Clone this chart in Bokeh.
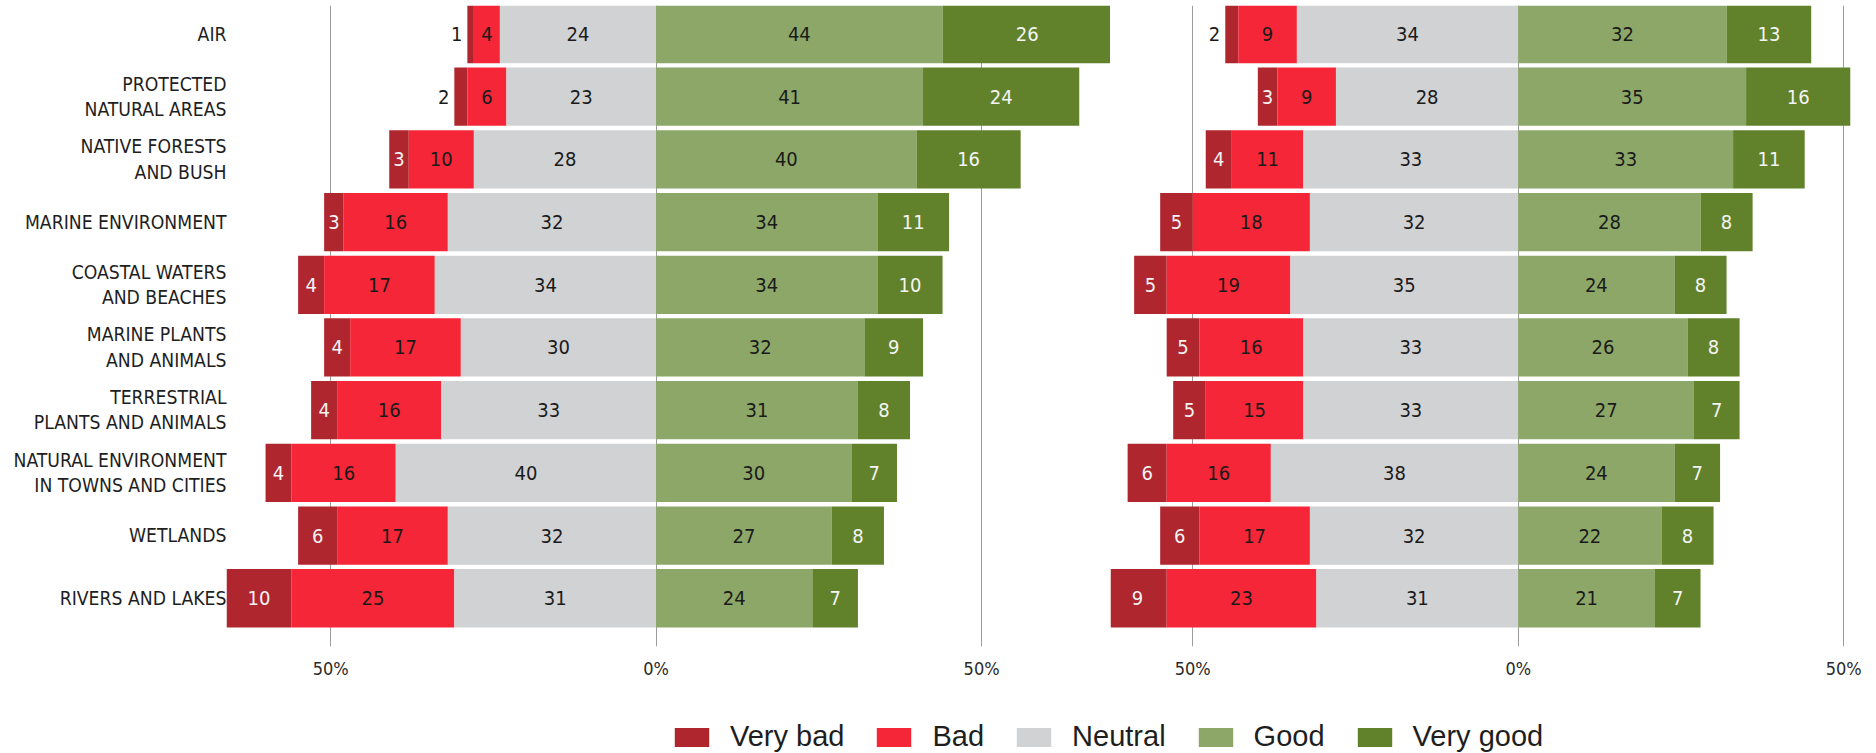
import numpy as np
from bokeh.plotting import figure
from bokeh.models import Range1d, FixedTicker, ColumnDataSource, Legend, LegendItem
from bokeh.layouts import column, row
from bokeh.embed import file_html
from bokeh.resources import INLINE
from bokeh.core.properties import value

categories = [
    "AIR",
    "PROTECTED\nNATURAL AREAS",
    "NATIVE FORESTS\nAND BUSH",
    "MARINE ENVIRONMENT",
    "COASTAL WATERS\nAND BEACHES",
    "MARINE PLANTS\nAND ANIMALS",
    "TERRESTRIAL\nPLANTS AND ANIMALS",
    "NATURAL ENVIRONMENT\nIN TOWNS AND CITIES",
    "WETLANDS",
    "RIVERS AND LAKES",
]
levels = ["Very bad", "Bad", "Neutral", "Good", "Very good"]
colors = ["#B0262E", "#F42637", "#D1D2D4", "#8DA768", "#61822B"]

# Left panel
very_bad_1 = [1, 2, 3, 3, 4, 4, 4, 4, 6, 10]
bad_1 = [4, 6, 10, 16, 17, 17, 16, 16, 17, 25]
neutral_1 = [24, 23, 28, 32, 34, 30, 33, 40, 32, 31]
good_1 = [44, 41, 40, 34, 34, 32, 31, 30, 27, 24]
very_good_1 = [26, 24, 16, 11, 10, 9, 8, 7, 8, 7]

# Right panel
very_bad_2 = [2, 3, 4, 5, 5, 5, 5, 6, 6, 9]
bad_2 = [9, 9, 11, 18, 19, 16, 15, 16, 17, 23]
neutral_2 = [34, 28, 33, 32, 35, 33, 33, 38, 32, 31]
good_2 = [32, 35, 33, 28, 24, 26, 27, 24, 22, 21]
very_good_2 = [13, 16, 11, 8, 8, 8, 7, 7, 8, 7]

tick_values = [-50, 0, 50]
tick_labels = ["50%", "0%", "50%"]

COND = "DejaVu Sans Condensed"
DARK = "#1a1a1a"
LIGHT = "#f4f4f4"
FRAME_H = 641


def make_panel(vb, b, n, g, vg, x_start, x_end, frame_w, show_y):
    vb, b, n, g, vg = [np.array(a, dtype=float) for a in (vb, b, n, g, vg)]
    y = np.arange(len(categories))
    segs = [
        (-(n + b + vb), -(n + b)),
        (-(n + b), -n),
        (-n, np.zeros_like(n)),
        (np.zeros_like(g), g),
        (g, g + vg),
    ]
    p = figure(
        frame_width=frame_w, frame_height=FRAME_H,
        x_range=Range1d(x_start, x_end),
        y_range=Range1d(len(categories) - 1 + 0.77, -0.455),
        output_backend="svg", toolbar_location=None,
        min_border_left=226 if show_y else 0, min_border_right=0,
        min_border_top=5, min_border_bottom=30,
        y_axis_location="left" if show_y else None,
    )
    p.outline_line_color = None
    p.xgrid.ticker = FixedTicker(ticks=tick_values)
    p.xgrid.grid_line_color = "#9c9c9c"
    p.xgrid.grid_line_width = 1
    p.ygrid.grid_line_color = None

    p.xaxis.ticker = FixedTicker(ticks=tick_values)
    p.xaxis.major_label_overrides = {t: l for t, l in zip(tick_values, tick_labels)}
    p.xaxis.axis_line_color = None
    p.xaxis.major_tick_line_color = None
    p.xaxis.minor_tick_line_color = None
    p.xaxis.major_label_standoff = 5
    p.xaxis.major_label_text_font = COND
    p.xaxis.major_label_text_font_size = "18px"
    p.xaxis.major_label_text_color = "#2a2a2a"

    if show_y:
        p.yaxis.ticker = FixedTicker(ticks=list(range(len(categories))))
        p.yaxis.major_label_overrides = {i: c for i, c in enumerate(categories)}
        p.yaxis.axis_line_color = None
        p.yaxis.major_tick_line_color = None
        p.yaxis.minor_tick_line_color = None
        p.yaxis.major_tick_out = 0
        p.yaxis.major_tick_in = 0
        p.yaxis.major_label_standoff = 0
        p.yaxis.major_label_text_font = COND
        p.yaxis.major_label_text_font_size = "19.2px"
        p.yaxis.major_label_text_color = "#1e1e1e"
        p.yaxis.major_label_text_line_height = 1.1

    vals = [vb, b, n, g, vg]
    for k, ((left, right), col) in enumerate(zip(segs, colors)):
        src = ColumnDataSource(dict(y=y, left=left, right=right))
        p.hbar(y="y", left="left", right="right", height=0.93, source=src,
               fill_color=col, line_color=None)

        v = vals[k]
        center = (left + right) / 2
        txt = [str(int(x)) for x in v]
        if k == 0:
            inside = v > 2
            tcol = LIGHT
        elif k == 4:
            inside = np.ones_like(v, dtype=bool)
            tcol = LIGHT
        else:
            inside = np.ones_like(v, dtype=bool)
            tcol = DARK
        s_in = ColumnDataSource(dict(x=center[inside], y=y[inside],
                                     t=[t for t, m in zip(txt, inside) if m]))
        p.text(x="x", y="y", text="t", source=s_in, text_align="center",
               text_baseline="middle", text_color=tcol,
               text_font=value(COND), text_font_size="20px")
        out = ~inside
        if out.any():
            s_out = ColumnDataSource(dict(x=left[out], y=y[out],
                                          t=[t for t, m in zip(txt, out) if m]))
            p.text(x="x", y="y", text="t", source=s_out, text_align="right",
                   text_baseline="middle", text_color=DARK, x_offset=-5,
                   text_font=value(COND), text_font_size="20px")
    return p


p1 = make_panel(very_bad_1, bad_1, neutral_1, good_1, very_good_1,
                -66.0, 69.8, 884, True)
p2 = make_panel(very_bad_2, bad_2, neutral_2, good_2, very_good_2,
                -62.63, 53.8, 758, False)

lf = figure(width=1868, height=72, toolbar_location=None, output_backend="svg",
            x_range=Range1d(0, 1), y_range=Range1d(0, 1),
            x_axis_location=None, y_axis_location=None, min_border=0)
lf.outline_line_color = None
lf.xgrid.grid_line_color = None
lf.ygrid.grid_line_color = None
items = []
for lab, col in zip(levels, colors):
    # zero-width swatch holder: nothing visible is drawn in the plot area
    r = lf.hbar(y=[0], left=[0], right=[0], height=0.0, fill_color=col, line_color=None)
    items.append(LegendItem(label=lab, renderers=[r]))
legend = Legend(items=items, orientation="horizontal", location=(670, 0),
                glyph_width=43, glyph_height=24, label_standoff=17, spacing=28,
                padding=0, margin=0, border_line_color=None,
                background_fill_alpha=0,
                label_text_font="Liberation Sans", label_text_font_size="29px",
                label_text_color="#1e1e1e")
lf.add_layout(legend, "center")

layout = column(row(p1, p2, spacing=0), lf, spacing=0)
open("out.html", "w").write(file_html(layout, INLINE))
